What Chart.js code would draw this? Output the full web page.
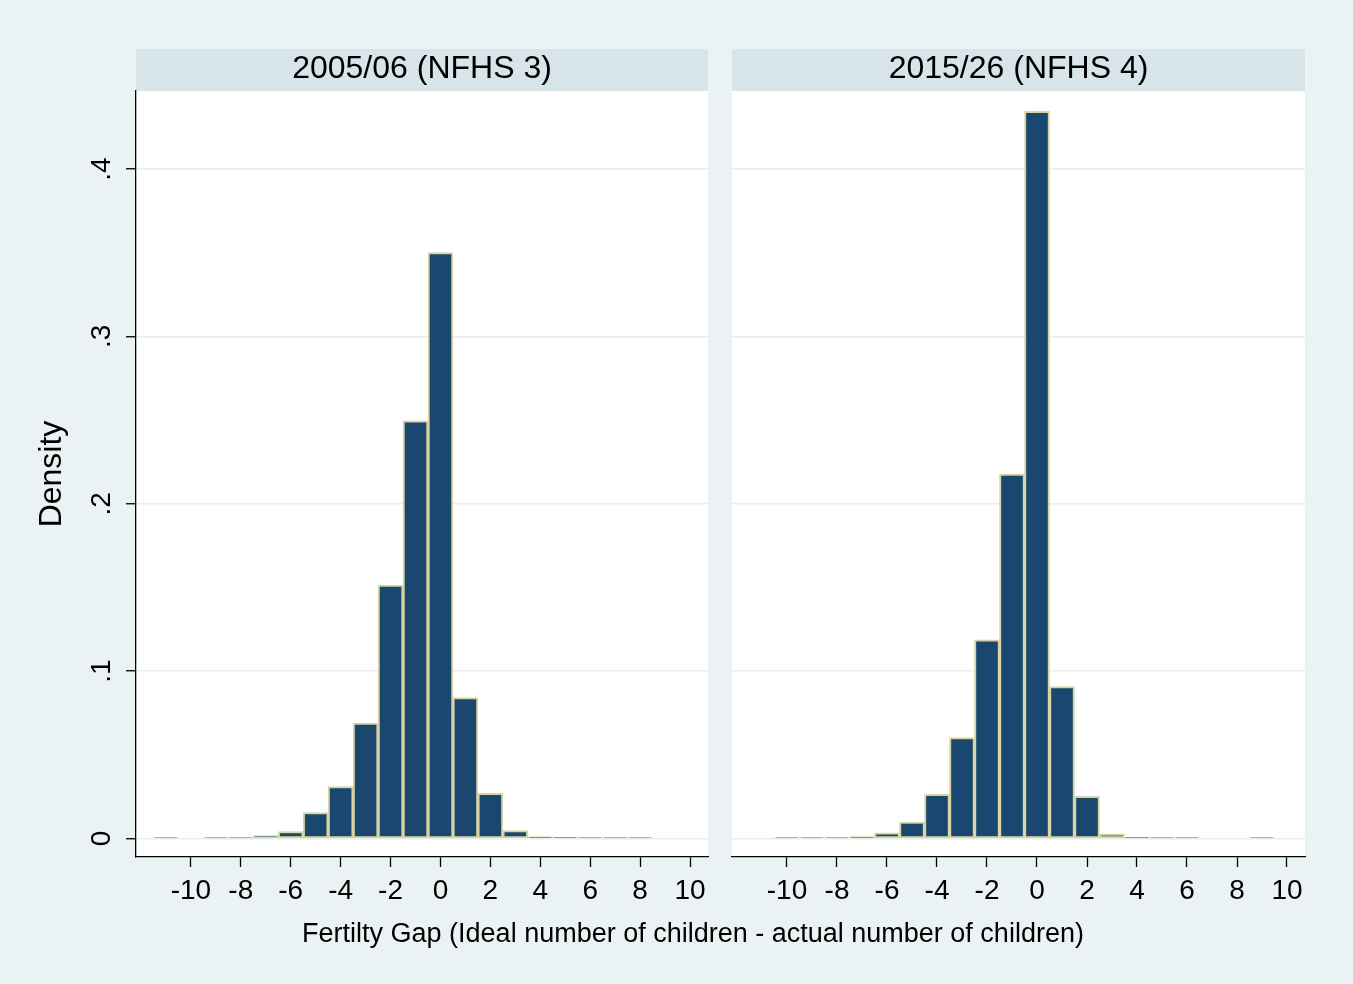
<!DOCTYPE html>
<html>
<head>
<meta charset="utf-8">
<title>Fertility gap histograms</title>
<script src="https://cdn.jsdelivr.net/npm/chart.js@4/dist/chart.umd.min.js"></script>
<style>
  html, body { margin: 0; padding: 0; background: #EAF2F3; }
  #wrap { position: relative; width: 1353px; height: 984px; overflow: hidden; background: #EAF2F3; }
  canvas { position: absolute; top: 0; }
  #c1 { left: 0; }
  #c2 { left: 720px; }
  #xtitle {
    position: absolute; left: 0; width: 1386px; top: 914px;
    text-align: center; white-space: nowrap; color: #000;
    font: 27px "Liberation Sans", Arial, sans-serif; line-height: 38px;
  }
</style>
</head>
<body>
<div id="wrap">
  <canvas id="c1" width="720" height="984"></canvas>
  <canvas id="c2" width="633" height="984"></canvas>
  <div id="xtitle"></div>
</div>
<script>
// Bin centres (gap = ideal - actual number of children), one bar per integer
const binCenters = [-11, -10, -9, -8, -7, -6, -5, -4, -3, -2, -1, 0, 1, 2, 3, 4, 5, 6, 7, 8, 9];

// Density per bin, NFHS 3 (2005/06); null = empty bin
const density0506 = [0.0006, null, 0.0006, 0.0006, 0.0018, 0.0042, 0.0155, 0.0310, 0.0690, 0.1515,
                     0.2495, 0.3500, 0.0842, 0.0270, 0.0048, 0.0012, 0.0008, 0.0006, 0.0006, 0.0006, null];

// Density per bin, NFHS 4
const density1516 = [null, 0.0006, 0.0006, 0.0006, 0.0012, 0.0035, 0.0098, 0.0265, 0.0603, 0.1188,
                     0.2178, 0.4345, 0.0908, 0.0252, 0.0028, 0.0008, 0.0006, 0.0006, null, null, 0.0006];

const xTickValues = [-10, -8, -6, -4, -2, 0, 2, 4, 6, 8, 10];
const yTickValues = [0, 0.1, 0.2, 0.3, 0.4];
const yTickLabels = ['0', '.1', '.2', '.3', '.4'];
const panelTitles = ['2005/06 (NFHS 3)', '2015/26 (NFHS 4)'];
const xAxisTitle = 'Fertilty Gap (Ideal number of children - actual number of children)';
const yAxisTitle = 'Density';

const FONT = '"Liberation Sans", Arial, sans-serif';
const NAVY = 'rgb(26,71,111)';
const BAR_EDGE = '#D8D3A0';
const GRID = '#E6EEF1';
const BAND = '#D7E4EA';

document.getElementById('xtitle').textContent = xAxisTitle;

function toPoints(values) {
  const pts = [];
  binCenters.forEach((x, i) => { if (values[i] !== null) pts.push({ x: x, y: values[i] }); });
  return pts;
}

// White plot region plus the grey strip carrying the panel title
const panelFrame = {
  id: 'panelFrame',
  beforeDraw(chart, args, opts) {
    const { ctx, chartArea: a } = chart;
    ctx.save();
    ctx.fillStyle = '#FFFFFF';
    ctx.fillRect(a.left, a.top, a.right - a.left, a.bottom - a.top);
    ctx.fillStyle = BAND;
    ctx.fillRect(a.left, 49, a.right - a.left, a.top - 49);
    ctx.fillStyle = '#000';
    ctx.font = '32px ' + FONT;
    ctx.textAlign = 'center';
    ctx.textBaseline = 'middle';
    ctx.fillText(opts.title, (a.left + a.right) / 2, 69);
    ctx.restore();
  }
};

// Vertical (rotated) y tick labels, placed through the y scale
const rotatedYLabels = {
  id: 'rotatedYLabels',
  afterDraw(chart, args, opts) {
    if (!opts.show) return;
    const { ctx } = chart;
    const y = chart.scales.y;
    ctx.save();
    ctx.fillStyle = '#000';
    ctx.font = '28px ' + FONT;
    ctx.textAlign = 'center';
    ctx.textBaseline = 'middle';
    yTickValues.forEach((v, i) => {
      ctx.save();
      ctx.translate(y.right - 34, y.getPixelForValue(v));
      ctx.rotate(-Math.PI / 2);
      ctx.fillText(yTickLabels[i], 0, 0);
      ctx.restore();
    });
    ctx.restore();
  }
};

function makePanel(canvasId, values, title, first) {
  return new Chart(document.getElementById(canvasId), {
    type: 'bar',
    data: {
      datasets: [{
        data: toPoints(values),
        backgroundColor: NAVY,
        borderColor: BAR_EDGE,
        borderWidth: 2,
        borderSkipped: false,
        barPercentage: 1,
        categoryPercentage: 1
      }]
    },
    options: {
      responsive: false,
      animation: false,
      events: [],
      layout: { padding: { top: 91, right: first ? 12 : 48, bottom: 0, left: 0 } },
      plugins: {
        legend: { display: false },
        tooltip: { enabled: false },
        panelFrame: { title: title },
        rotatedYLabels: { show: first }
      },
      scales: {
        x: {
          type: 'linear',
          min: -12.2,
          max: 10.72,
          offset: false,
          afterBuildTicks: s => { s.ticks = xTickValues.map(v => ({ value: v })); },
          afterFit: s => { s.height = 127; },
          ticks: {
            color: '#000',
            font: { family: FONT, size: 28 },
            padding: 7,
            maxRotation: 0,
            autoSkip: false,
            callback: v => String(v)
          },
          grid: {
            offset: false, drawOnChartArea: false, drawTicks: true,
            tickLength: 10, tickColor: '#000', tickWidth: 1.3
          },
          border: { display: true, color: '#000', width: 1.3 }
        },
        y: {
          type: 'linear',
          min: -0.011,
          max: 0.4466,
          afterBuildTicks: s => { s.ticks = yTickValues.map(v => ({ value: v })); },
          afterFit: s => { s.width = first ? 136 : 12; },
          ticks: { display: false },
          grid: {
            offset: false, color: GRID, lineWidth: 1.5,
            drawTicks: first, tickLength: 10, tickColor: '#000', tickWidth: 1.3
          },
          border: { display: first, color: '#000', width: 1.3 },
          title: {
            display: first,
            text: yAxisTitle,
            color: '#000',
            font: { family: FONT, size: 32 },
            padding: { top: 33, bottom: 0 }
          }
        }
      }
    },
    plugins: [panelFrame, rotatedYLabels]
  });
}

makePanel('c1', density0506, panelTitles[0], true);
makePanel('c2', density1516, panelTitles[1], false);
</script>
</body>
</html>
